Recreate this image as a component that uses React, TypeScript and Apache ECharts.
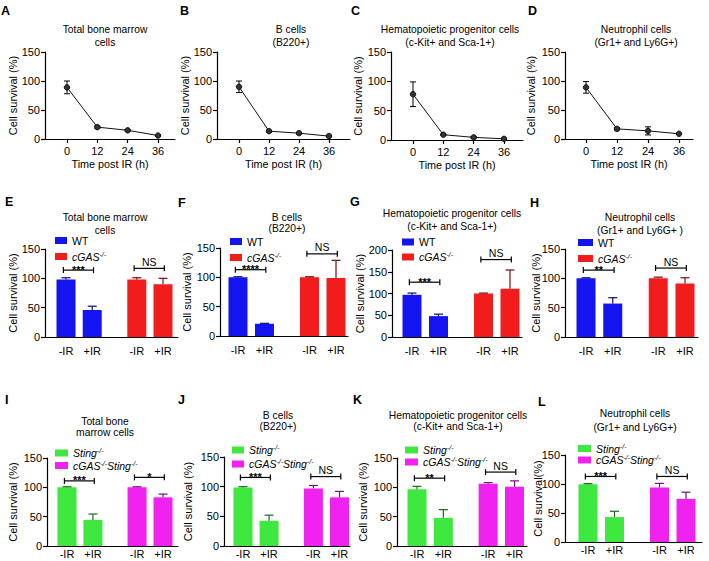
import React, { useEffect, useRef } from 'react';
import * as echarts from 'echarts';

const FONT = "'Liberation Sans', Arial, Helvetica, sans-serif";

// ---------- Panels A–D : survival over time ----------
const TIME_POINTS = [0, 12, 24, 36];
const X_AXIS_NAME = 'Time post IR (h)';
const Y_AXIS_NAME = 'Cell survival (%)';
const Y_AXIS_NAME_L = 'Cell survival(%)';

const A_MEAN = [89, 20.5, 15, 6];
const A_SEM = [11, 2, 1.5, 1];
const B_MEAN = [90, 13.5, 10, 5];
const B_SEM = [10, 1.5, 1.5, 1.5];
const C_MEAN = [78, 9, 4.5, 2];
const C_SEM = [21, 1, 1.5, 1];
const D_MEAN = [89, 17.5, 14, 9];
const D_SEM = [10, 2, 7, 1];

// ---------- Panels E–L : bar charts ----------
const IR_LABELS = ['-IR', '+IR'];
const WT = 'WT';
const CGAS = 'cGAS-/-';
const STING = 'Sting-/-';
const DKO = 'cGAS-/-Sting-/-';

const E_WT = [98, 46];
const E_WT_SEM = [3, 6.5];
const E_KO = [98, 90];
const E_KO_SEM = [3, 10];
const E_SIG = ['***', 'NS'];
const E_SIG_Y = [114, 117];

const F_WT = [100, 21];
const F_WT_SEM = [1, 0.6];
const F_KO = [100, 99];
const F_KO_SEM = [1, 30];
const F_SIG = ['****', 'NS'];
const F_SIG_Y = [113, 140];

const G_WT = [97, 48];
const G_WT_SEM = [4, 4.5];
const G_KO = [100, 111];
const G_KO_SEM = [1, 43];
const G_SIG = ['***', 'NS'];
const G_SIG_Y = [126, 178];

const H_WT = [100, 57];
const H_WT_SEM = [1, 10];
const H_KO = [100, 91];
const H_KO_SEM = [2, 10];
const H_SIG = ['**', 'NS'];
const H_SIG_Y = [114, 117.5];

const I_ST = [100, 44.5];
const I_ST_SEM = [1, 10];
const I_DKO = [100, 83];
const I_DKO_SEM = [1, 5.5];
const I_SIG = ['***', '*'];
const I_SIG_Y = [111, 117];

const J_ST = [98.5, 42.5];
const J_ST_SEM = [1.5, 9.5];
const J_DKO = [97, 82];
const J_DKO_SEM = [5, 10];
const J_SIG = ['***', 'NS'];
const J_SIG_Y = [115.5, 117];

const K_ST = [96.7, 48];
const K_ST_SEM = [5, 14];
const K_DKO = [106, 101];
const K_DKO_SEM = [2, 10];
const K_SIG = ['**', 'NS'];
const K_SIG_Y = [115.6, 126];

const L_ST = [99.6, 43];
const L_ST_SEM = [1, 10];
const L_DKO = [94, 74.4];
const L_DKO_SEM = [7, 11.5];
const L_SIG = ['***', 'NS'];
const L_SIG_Y = [113, 113];

const TITLE_TOTAL = 'Total bone marrow\ncells';
const TITLE_TOTAL_2 = 'Total bone\nmarrow cells';
const TITLE_B = 'B cells\n(B220+)';
const TITLE_HPC = 'Hematopoietic progenitor cells\n(c-Kit+ and Sca-1+)';
const TITLE_NEU = 'Neutrophil cells\n(Gr1+ and Ly6G+)';
const TITLE_NEU_H = 'Neutrophil cells\n(Gr1+ and Ly6G+ )';

// colours
const BLUE = '#1414f0';
const RED = '#f21c1c';
const GREEN = '#3fe83f';
const MAGENTA = '#f022f0';
const BLUE_D = '#0a0a7a';
const RED_D = '#7a0a0a';
const GREEN_D = '#1a6a1a';
const MAGENTA_D = '#7a107a';

const GROUP_STEP = 2.7;
const BAR_W = 19;
const CAP_W = 9;
const TICK_FS = 11;
const TITLE_FS = 10.3;

const LINE_PANELS = [
  { letter: 'A', title: TITLE_TOTAL, mean: A_MEAN, sem: A_SEM },
  { letter: 'B', title: TITLE_B, mean: B_MEAN, sem: B_SEM },
  { letter: 'C', title: TITLE_HPC, mean: C_MEAN, sem: C_SEM },
  { letter: 'D', title: TITLE_NEU, mean: D_MEAN, sem: D_SEM },
];

const LINE_LAYOUT = [
  { left: 45, right: 175, top: 52, bottom: 139, x0: 67, x36: 158, nameX: 18, titleX: 105, titleY: 29, lh: 13, lx: 1, ly: 6 },
  { left: 217, right: 350, top: 52, bottom: 139, x0: 239, x36: 329, nameX: 190, titleX: 291, titleY: 29, lh: 13, lx: 180, ly: 6 },
  { left: 391, right: 523, top: 52, bottom: 140, x0: 413, x36: 504, nameX: 363, titleX: 450, titleY: 29, lh: 13, lx: 351, ly: 6 },
  { left: 565, right: 693, top: 52, bottom: 139, x0: 586, x36: 679, nameX: 536, titleX: 636, titleY: 29, lh: 13, lx: 528, ly: 6 },
];

const BAR_PANELS = [
  { letter: 'E', title: TITLE_TOTAL, yName: Y_AXIS_NAME, ymax: 150, names: [WT, CGAS], colors: [BLUE, RED], dark: [BLUE_D, RED_D], means: [E_WT, E_KO], sems: [E_WT_SEM, E_KO_SEM], sig: E_SIG, sigY: E_SIG_Y },
  { letter: 'F', title: TITLE_B, yName: Y_AXIS_NAME, ymax: 150, names: [WT, CGAS], colors: [BLUE, RED], dark: [BLUE_D, RED_D], means: [F_WT, F_KO], sems: [F_WT_SEM, F_KO_SEM], sig: F_SIG, sigY: F_SIG_Y },
  { letter: 'G', title: TITLE_HPC, yName: Y_AXIS_NAME, ymax: 200, names: [WT, CGAS], colors: [BLUE, RED], dark: [BLUE_D, RED_D], means: [G_WT, G_KO], sems: [G_WT_SEM, G_KO_SEM], sig: G_SIG, sigY: G_SIG_Y },
  { letter: 'H', title: TITLE_NEU_H, yName: Y_AXIS_NAME, ymax: 150, names: [WT, CGAS], colors: [BLUE, RED], dark: [BLUE_D, RED_D], means: [H_WT, H_KO], sems: [H_WT_SEM, H_KO_SEM], sig: H_SIG, sigY: H_SIG_Y },
  { letter: 'I', title: TITLE_TOTAL_2, yName: Y_AXIS_NAME, ymax: 150, names: [STING, DKO], colors: [GREEN, MAGENTA], dark: [GREEN_D, MAGENTA_D], means: [I_ST, I_DKO], sems: [I_ST_SEM, I_DKO_SEM], sig: I_SIG, sigY: I_SIG_Y },
  { letter: 'J', title: TITLE_B, yName: Y_AXIS_NAME, ymax: 150, names: [STING, DKO], colors: [GREEN, MAGENTA], dark: [GREEN_D, MAGENTA_D], means: [J_ST, J_DKO], sems: [J_ST_SEM, J_DKO_SEM], sig: J_SIG, sigY: J_SIG_Y },
  { letter: 'K', title: TITLE_HPC, yName: Y_AXIS_NAME, ymax: 150, names: [STING, DKO], colors: [GREEN, MAGENTA], dark: [GREEN_D, MAGENTA_D], means: [K_ST, K_DKO], sems: [K_ST_SEM, K_DKO_SEM], sig: K_SIG, sigY: K_SIG_Y },
  { letter: 'L', title: TITLE_NEU, yName: Y_AXIS_NAME_L, ymax: 150, names: [STING, DKO], colors: [GREEN, MAGENTA], dark: [GREEN_D, MAGENTA_D], means: [L_ST, L_DKO], sems: [L_ST_SEM, L_DKO_SEM], sig: L_SIG, sigY: L_SIG_Y },
];

const BAR_LAYOUT = [
  { left: 45, right: 178, top: 249, bottom: 337, first: 66, last: 163, nameX: 18, titleX: 105, titleY: 217, lh: 13, lx: 5, ly: 197, legX: 55, legY: 240.5, legGap: 16, legW: 12, labelMargin: 8 },
  { left: 220, right: 348, top: 248, bottom: 336, first: 238, last: 336, nameX: 192, titleX: 287, titleY: 217, lh: 11.5, lx: 178, ly: 198, legX: 230, legY: 241.5, legGap: 16, legW: 12, labelMargin: 8 },
  { left: 392, right: 522, top: 250, bottom: 337, first: 412, last: 510, nameX: 365, titleX: 452, titleY: 213, lh: 13, lx: 350, ly: 197, legX: 402, legY: 242, legGap: 15, legW: 12, labelMargin: 8 },
  { left: 565, right: 698, top: 249, bottom: 337, first: 586, last: 685, nameX: 541, titleX: 640, titleY: 217, lh: 13, lx: 530, ly: 198, legX: 578, legY: 242.5, legGap: 16, legW: 15, labelMargin: 8 },
  { left: 47, right: 178, top: 458, bottom: 546, first: 67, last: 163, nameX: 18, titleX: 105, titleY: 421.7, lh: 11.3, lx: 5, ly: 395, legX: 55, legY: 453, legGap: 12.5, legW: 13, labelMargin: 2.5 },
  { left: 224, right: 350, top: 457, bottom: 546, first: 243, last: 339.5, nameX: 193, titleX: 278, titleY: 415, lh: 11, lx: 178, ly: 395, legX: 232, legY: 450, legGap: 14, legW: 12, labelMargin: 2.5 },
  { left: 397, right: 527, top: 458, bottom: 546, first: 417, last: 514.5, nameX: 368, titleX: 458, titleY: 415, lh: 11, lx: 353, ly: 395, legX: 405, legY: 450, legGap: 12, legW: 13, labelMargin: 2.5 },
  { left: 565, right: 702, top: 455, bottom: 542, first: 588, last: 686, nameX: 543, titleX: 635, titleY: 413, lh: 14, lx: 538, ly: 397, legX: 578, legY: 448.5, legGap: 11.5, legW: 13, labelMargin: 2.5 },
];

function textEl(x: number, y: number, text: string, size: number, weight: string, align: string, lh?: number) {
  return {
    type: 'text',
    x,
    y,
    silent: true,
    style: {
      text,
      fill: '#000',
      font: `${weight} ${size}px ${FONT}`,
      align,
      textAlign: align,
      verticalAlign: 'top',
      textVerticalAlign: 'top',
      lineHeight: lh || size,
    },
  };
}

function buildOption() {
  const grid: any[] = [];
  const xAxis: any[] = [];
  const yAxis: any[] = [];
  const series: any[] = [];
  const legend: any[] = [];
  const graphic: any[] = [];
  const axisLineStyle = { color: '#000', width: 1.2 };
  const labelStyle = { color: '#000', fontSize: TICK_FS, fontFamily: FONT };
  const nameStyle = { color: '#000', fontSize: 11, fontFamily: FONT };

  LINE_PANELS.forEach((p, i) => {
    const L = LINE_LAYOUT[i];
    const unit = (L.x36 - L.x0) / 36;
    const xmin = -(L.x0 - L.left) / unit;
    const xmax = 36 + (L.right - L.x36) / unit;
    const gi = grid.length;
    grid.push({ left: L.left, top: L.top, width: L.right - L.left, height: L.bottom - L.top });
    xAxis.push({
      gridIndex: gi, type: 'value', min: xmin, max: xmax,
      axisLine: { show: true, onZero: false, lineStyle: axisLineStyle },
      axisTick: { show: true, length: 4, customValues: TIME_POINTS, lineStyle: axisLineStyle },
      axisLabel: { customValues: TIME_POINTS, margin: 6, ...labelStyle },
      splitLine: { show: false },
      name: X_AXIS_NAME, nameLocation: 'middle', nameGap: 19, nameMoveOverlap: false,
      nameTextStyle: { ...nameStyle, fontSize: 10.8 },
    });
    yAxis.push({
      gridIndex: gi, type: 'value', min: 0, max: 150, interval: 50,
      axisLine: { show: true, onZero: false, lineStyle: axisLineStyle },
      axisTick: { show: true, length: 4, lineStyle: axisLineStyle },
      axisLabel: { margin: 5, ...labelStyle },
      splitLine: { show: false },
      name: Y_AXIS_NAME, nameLocation: 'middle', nameRotate: 90, nameGap: L.left - L.nameX,
      nameMoveOverlap: false,
      nameTextStyle: nameStyle,
    });
    series.push({
      type: 'line', xAxisIndex: gi, yAxisIndex: gi,
      data: TIME_POINTS.map((t, k) => [t, p.mean[k]]),
      symbol: 'circle', symbolSize: 5.5,
      lineStyle: { color: '#111', width: 1 },
      itemStyle: { color: '#333', borderColor: '#000', borderWidth: 0.8 },
      z: 3,
    });
    series.push({
      type: 'custom', xAxisIndex: gi, yAxisIndex: gi,
      data: TIME_POINTS.map((t, k) => [t, p.mean[k] - p.sem[k], p.mean[k] + p.sem[k]]),
      renderItem: (_params: any, api: any) => {
        const lo = api.coord([api.value(0), api.value(1)]);
        const hi = api.coord([api.value(0), api.value(2)]);
        const st = { stroke: '#000', lineWidth: 1 };
        return {
          type: 'group',
          children: [
            { type: 'line', shape: { x1: lo[0], y1: lo[1], x2: hi[0], y2: hi[1] }, style: st },
            { type: 'line', shape: { x1: lo[0] - 3, y1: lo[1], x2: lo[0] + 3, y2: lo[1] }, style: st },
            { type: 'line', shape: { x1: hi[0] - 3, y1: hi[1], x2: hi[0] + 3, y2: hi[1] }, style: st },
          ],
        };
      },
      z: 2,
    });
    graphic.push(textEl(L.titleX, L.titleY - L.lh / 2, p.title, TITLE_FS, 'normal', 'center', L.lh));
    graphic.push(textEl(L.lx, L.ly - 1.6, p.letter, 12.5, 'bold', 'left'));
  });

  const positions = [0, 1, GROUP_STEP, GROUP_STEP + 1];

  BAR_PANELS.forEach((p, i) => {
    const B = BAR_LAYOUT[i];
    const unit = (B.last - B.first) / (GROUP_STEP + 1);
    const xmin = -(B.first - B.left) / unit;
    const xmax = (B.right - B.first) / unit;
    const gi = grid.length;
    grid.push({ left: B.left, top: B.top, width: B.right - B.left, height: B.bottom - B.top });
    xAxis.push({
      gridIndex: gi, type: 'value', min: xmin, max: xmax,
      axisLine: { show: true, onZero: false, lineStyle: axisLineStyle },
      axisTick: { show: false },
      axisLabel: {
        customValues: positions, margin: B.labelMargin, ...labelStyle,
        formatter: (v: number) => {
          const k = positions.findIndex((q) => Math.abs(q - v) < 1e-6);
          return k >= 0 ? IR_LABELS[k % 2] : '';
        },
      },
      splitLine: { show: false },
    });
    yAxis.push({
      gridIndex: gi, type: 'value', min: 0, max: p.ymax, interval: 50,
      axisLine: { show: true, onZero: false, lineStyle: axisLineStyle },
      axisTick: { show: true, length: 4, lineStyle: axisLineStyle },
      axisLabel: { margin: 5, ...labelStyle },
      splitLine: { show: false },
      name: p.yName, nameLocation: 'middle', nameRotate: 90, nameGap: B.left - B.nameX,
      nameMoveOverlap: false,
      nameTextStyle: nameStyle,
    });
    p.names.forEach((name, g) => {
      const color = p.colors[g];
      const dark = p.dark[g];
      series.push({
        type: 'custom', name, xAxisIndex: gi, yAxisIndex: gi,
        itemStyle: { color },
        data: IR_LABELS.map((_l, c) => [g * GROUP_STEP + c, p.means[g][c], p.sems[g][c]]),
        renderItem: (_params: any, api: any) => {
          const x = api.value(0);
          const v = api.value(1);
          const e = api.value(2);
          const top = api.coord([x, v]);
          const base = api.coord([x, 0]);
          const eTop = api.coord([x, v + e]);
          const st = { stroke: dark, lineWidth: 1.2 };
          return {
            type: 'group',
            children: [
              { type: 'rect', shape: { x: top[0] - BAR_W / 2, y: top[1], width: BAR_W, height: base[1] - top[1] }, style: { fill: color } },
              { type: 'line', shape: { x1: top[0], y1: top[1], x2: top[0], y2: eTop[1] }, style: st },
              { type: 'line', shape: { x1: top[0] - CAP_W / 2, y1: eTop[1], x2: top[0] + CAP_W / 2, y2: eTop[1] }, style: st },
            ],
          };
        },
        z: 2,
      });
    });
    // significance brackets
    series.push({
      type: 'custom', xAxisIndex: gi, yAxisIndex: gi,
      data: p.sig.map((_s, g) => [g * GROUP_STEP - 0.1, g * GROUP_STEP + 1.05, p.sigY[g]]),
      renderItem: (params: any, api: any) => {
        const a = api.coord([api.value(0), api.value(2)]);
        const b = api.coord([api.value(1), api.value(2)]);
        const label = p.sig[params.dataIndex];
        const st = { stroke: '#000', lineWidth: 1.2 };
        const isStar = label.indexOf('*') >= 0;
        return {
          type: 'group',
          children: [
            { type: 'line', shape: { x1: a[0], y1: a[1], x2: b[0], y2: b[1] }, style: st },
            { type: 'line', shape: { x1: a[0], y1: a[1] - 3, x2: a[0], y2: a[1] + 3 }, style: st },
            { type: 'line', shape: { x1: b[0], y1: b[1] - 3, x2: b[0], y2: b[1] + 3 }, style: st },
            {
              type: 'text', x: (a[0] + b[0]) / 2, y: isStar ? a[1] - 0.5 : a[1] - 1,
              style: {
                text: label, fill: '#000', font: `${isStar ? 'bold 11' : 'normal 10.5'}px ${FONT}`,
                align: 'center', textAlign: 'center',
                verticalAlign: isStar ? 'middle' : 'bottom', textVerticalAlign: isStar ? 'middle' : 'bottom',
              },
            },
          ],
        };
      },
      z: 3,
    });
    legend.push({
      left: B.legX, top: B.legY - 6, orient: 'vertical', padding: 0,
      itemWidth: B.legW, itemHeight: 7, itemGap: B.legGap - 12, icon: 'rect',
      selectedMode: false, data: p.names,
      formatter: (name: string) => {
        if (name === CGAS) return '{i|cGAS}{s|-/-}';
        if (name === STING) return '{i|Sting}{s|-/-}';
        if (name === DKO) return '{i|cGAS}{s|-/-}{i|Sting}{s|-/-}';
        return name;
      },
      textStyle: {
        color: '#000', fontSize: 10.5, fontFamily: FONT, lineHeight: 12,
        rich: {
          i: { fontStyle: 'italic', fontSize: 10.5, fontFamily: FONT, color: '#000', lineHeight: 12 },
          s: { fontStyle: 'italic', fontSize: 7, fontFamily: FONT, color: '#000', lineHeight: 8, verticalAlign: 'top' },
        },
      },
    });
    graphic.push(textEl(B.titleX, B.titleY - B.lh / 2, p.title, TITLE_FS, 'normal', 'center', B.lh));
    graphic.push(textEl(B.lx, B.ly - 1.6, p.letter, 12.5, 'bold', 'left'));
  });

  return {
    animation: false,
    backgroundColor: '#fff',
    grid, xAxis, yAxis, series, legend, graphic,
  };
}

export default function App() {
  const ref = useRef<HTMLDivElement>(null);
  useEffect(() => {
    if (!ref.current) return;
    const chart = echarts.init(ref.current, undefined, { renderer: 'svg' });
    chart.setOption(buildOption() as any);
    return () => chart.dispose();
  }, []);
  return (
    <div
      ref={ref}
      style={{ position: 'fixed', left: 0, top: 0, width: 709, height: 561, background: '#fff' }}
    />
  );
}
